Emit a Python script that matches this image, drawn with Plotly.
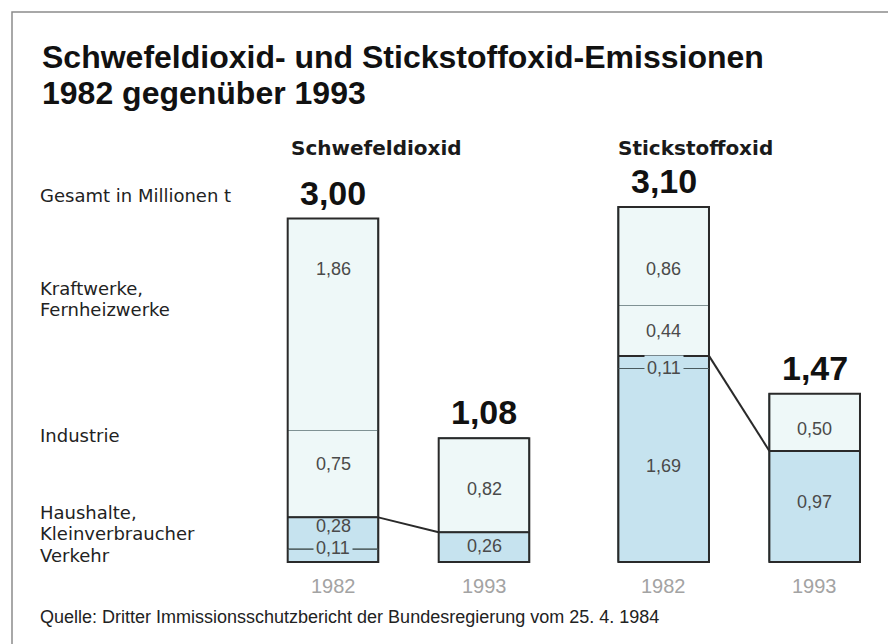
import plotly.graph_objects as go

# ---------------- data ----------------
years = ["1982", "1993", "1982", "1993"]
groups = ["Schwefeldioxid", "Schwefeldioxid", "Stickstoffoxid", "Stickstoffoxid"]
totals = [3.00, 1.08, 3.10, 1.47]
total_labels = ["3,00", "1,08", "3,10", "1,47"]

# segments from bottom to top; blue = Haushalte/Kleinverbraucher/Verkehr, light = Industrie/Kraftwerke
seg_values = [
    [0.11, 0.28, 0.75, 1.86],   # SO2 1982: Verkehr, Haushalte, Industrie, Kraftwerke
    [0.26, 0.82],               # SO2 1993
    [1.69, 0.11, 0.44, 0.86],   # NOx 1982: Verkehr, Haushalte, Industrie, Kraftwerke
    [0.97, 0.50],               # NOx 1993
]
seg_labels = [
    ["0,11", "0,28", "0,75", "1,86"],
    ["0,26", "0,82"],
    ["1,69", "0,11", "0,44", "0,86"],
    ["0,97", "0,50"],
]
seg_kind = [
    ["blue", "blue", "light", "light"],
    ["blue", "light"],
    ["blue", "blue", "light", "light"],
    ["blue", "light"],
]

left_labels = [["Gesamt in Millionen t"], ["Kraftwerke,", "Fernheizwerke"], ["Industrie"],
               ["Haushalte,", "Kleinverbraucher", "Verkehr"]]
title_lines = ["Schwefeldioxid- und Stickstoffoxid-Emissionen", "1982 gegenüber 1993"]
source_text = "Quelle: Dritter Immissionsschutzbericht der Bundesregierung vom 25. 4. 1984"

# ---------------- layout / style constants ----------------
OFF = 8                 # page body margin
FW, FH = 888, 636       # figure size
xpos = [0, 1, 2.19, 3.19]
bw = 0.6
PX_X = 151.0
X0_PX = 333.0 - OFF
PX_Y = 114.5
Y0_PX = 562.0 - OFF
colors = {"light": "#eef8f8", "blue": "#c6e3ef"}
FONT = "Liberation Sans"
DARK = "#2a2a2a"
# labels drawn across a boundary line
on_line = [[True, False, False, False], [False, False], [False, True, False, False], [False, False]]
# extra vertical offset for value labels (pixels, positive = down)
label_dy = [[0, -6, -9, -55], [0, 5], [2, 0, 1, 14], [-3, 8]]


def px(x):
    return (x - OFF) / FW


def py(y):
    return 1 - (y - OFF) / FH


fig = go.Figure()

# stacked segments
for i, vals in enumerate(seg_values):
    base = 0.0
    for j, v in enumerate(vals):
        fig.add_trace(go.Bar(
            x=[xpos[i]], y=[v], base=[base], width=bw,
            marker=dict(color=colors[seg_kind[i][j]], line=dict(color="#7f9294", width=1)),
            showlegend=False, hoverinfo="skip"))
        base += v

annotations = []
shapes = []

for i, vals in enumerate(seg_values):
    x = xpos[i]
    cum = 0.0
    blue_top = sum(v for v, k in zip(vals, seg_kind[i]) if k == "blue")
    shapes.append(dict(type="rect", xref="x", yref="y", x0=x - bw / 2, x1=x + bw / 2,
                       y0=0, y1=totals[i], line=dict(color=DARK, width=2)))
    shapes.append(dict(type="line", xref="x", yref="y", x0=x - bw / 2, x1=x + bw / 2,
                       y0=blue_top, y1=blue_top, line=dict(color=DARK, width=2)))
    for j, v in enumerate(vals):
        if on_line[i][j]:
            yb = cum + v if j == 0 else cum
            shapes.append(dict(type="line", xref="x", yref="y", x0=x - bw / 2, x1=x + bw / 2,
                               y0=yb, y1=yb, line=dict(color="#4a5a5e", width=1)))
            annotations.append(dict(x=x, y=yb, xref="x", yref="y", text=seg_labels[i][j],
                                    showarrow=False, bgcolor=colors[seg_kind[i][j]],
                                    borderpad=2, yshift=-label_dy[i][j] + 1,
                                    font=dict(family=FONT, size=18, color="#4a4a4a")))
        else:
            annotations.append(dict(x=x, y=cum + v / 2, xref="x", yref="y", text=seg_labels[i][j],
                                    showarrow=False, yshift=-label_dy[i][j] + 1,
                                    font=dict(family=FONT, size=18, color="#4a4a4a")))
        cum += v
    annotations.append(dict(x=x, y=totals[i], xref="x", yref="y", text="<b>%s</b>" % total_labels[i],
                            showarrow=False, yanchor="middle", yshift=26,
                            font=dict(family=FONT, size=34, color="#111")))
    annotations.append(dict(x=x, y=0, xref="x", yref="y", text=years[i], showarrow=False,
                            yanchor="middle", yshift=-24,
                            font=dict(family=FONT, size=20, color="#a3a3a3")))

# connector lines between tops of the blue parts
for a, b in [(0, 1), (2, 3)]:
    ta = sum(v for v, k in zip(seg_values[a], seg_kind[a]) if k == "blue")
    tb = sum(v for v, k in zip(seg_values[b], seg_kind[b]) if k == "blue")
    fig.add_trace(go.Scatter(x=[xpos[a] + bw / 2, xpos[b] - bw / 2], y=[ta, tb], mode="lines",
                             line=dict(color=DARK, width=2), showlegend=False, hoverinfo="skip"))

# group headers
for name, x0 in [(groups[0], 289), (groups[2], 616)]:
    annotations.append(dict(x=px(x0), y=py(148), xref="paper", yref="paper", text="<b>%s</b>" % name,
                            showarrow=False, xanchor="left", yanchor="middle",
                            font=dict(family="DejaVu Sans", size=20, color="#1a1a1a")))

# left labels, one annotation per line for tight leading
left_y = [[195], [288, 309.5], [435], [512, 533.5, 555]]
for lines, ys in zip(left_labels, left_y):
    for t, yy in zip(lines, ys):
        annotations.append(dict(x=px(38), y=py(yy), xref="paper", yref="paper", text=t, showarrow=False,
                                xanchor="left", yanchor="middle",
                                font=dict(family="DejaVu Sans", size=18, color="#222")))

# title
for t, yy in zip(title_lines, [57, 93]):
    annotations.append(dict(x=px(40), y=py(yy), xref="paper", yref="paper", text="<b>%s</b>" % t,
                            showarrow=False, xanchor="left", yanchor="middle",
                            font=dict(family=FONT, size=32, color="#111")))
# source
annotations.append(dict(x=px(38), y=py(617), xref="paper", yref="paper", text=source_text,
                        showarrow=False, xanchor="left", yanchor="middle",
                        font=dict(family=FONT, size=18, color="#222")))

# frame
shapes.append(dict(type="rect", xref="paper", yref="paper", x0=px(12), x1=px(892), y0=-0.05, y1=py(12),
                   line=dict(color="#8c8c8c", width=1.5), layer="below"))

fig.update_layout(
    width=FW, height=FH, margin=dict(l=0, r=0, t=0, b=0),
    paper_bgcolor="white", plot_bgcolor="white",
    barmode="overlay", bargap=0,
    xaxis=dict(range=[-X0_PX / PX_X, (FW - X0_PX) / PX_X], visible=False, fixedrange=True),
    yaxis=dict(range=[-(FH - Y0_PX) / PX_Y, Y0_PX / PX_Y], visible=False, fixedrange=True),
    annotations=annotations, shapes=shapes, showlegend=False,
)

fig.write_html("out.html")
